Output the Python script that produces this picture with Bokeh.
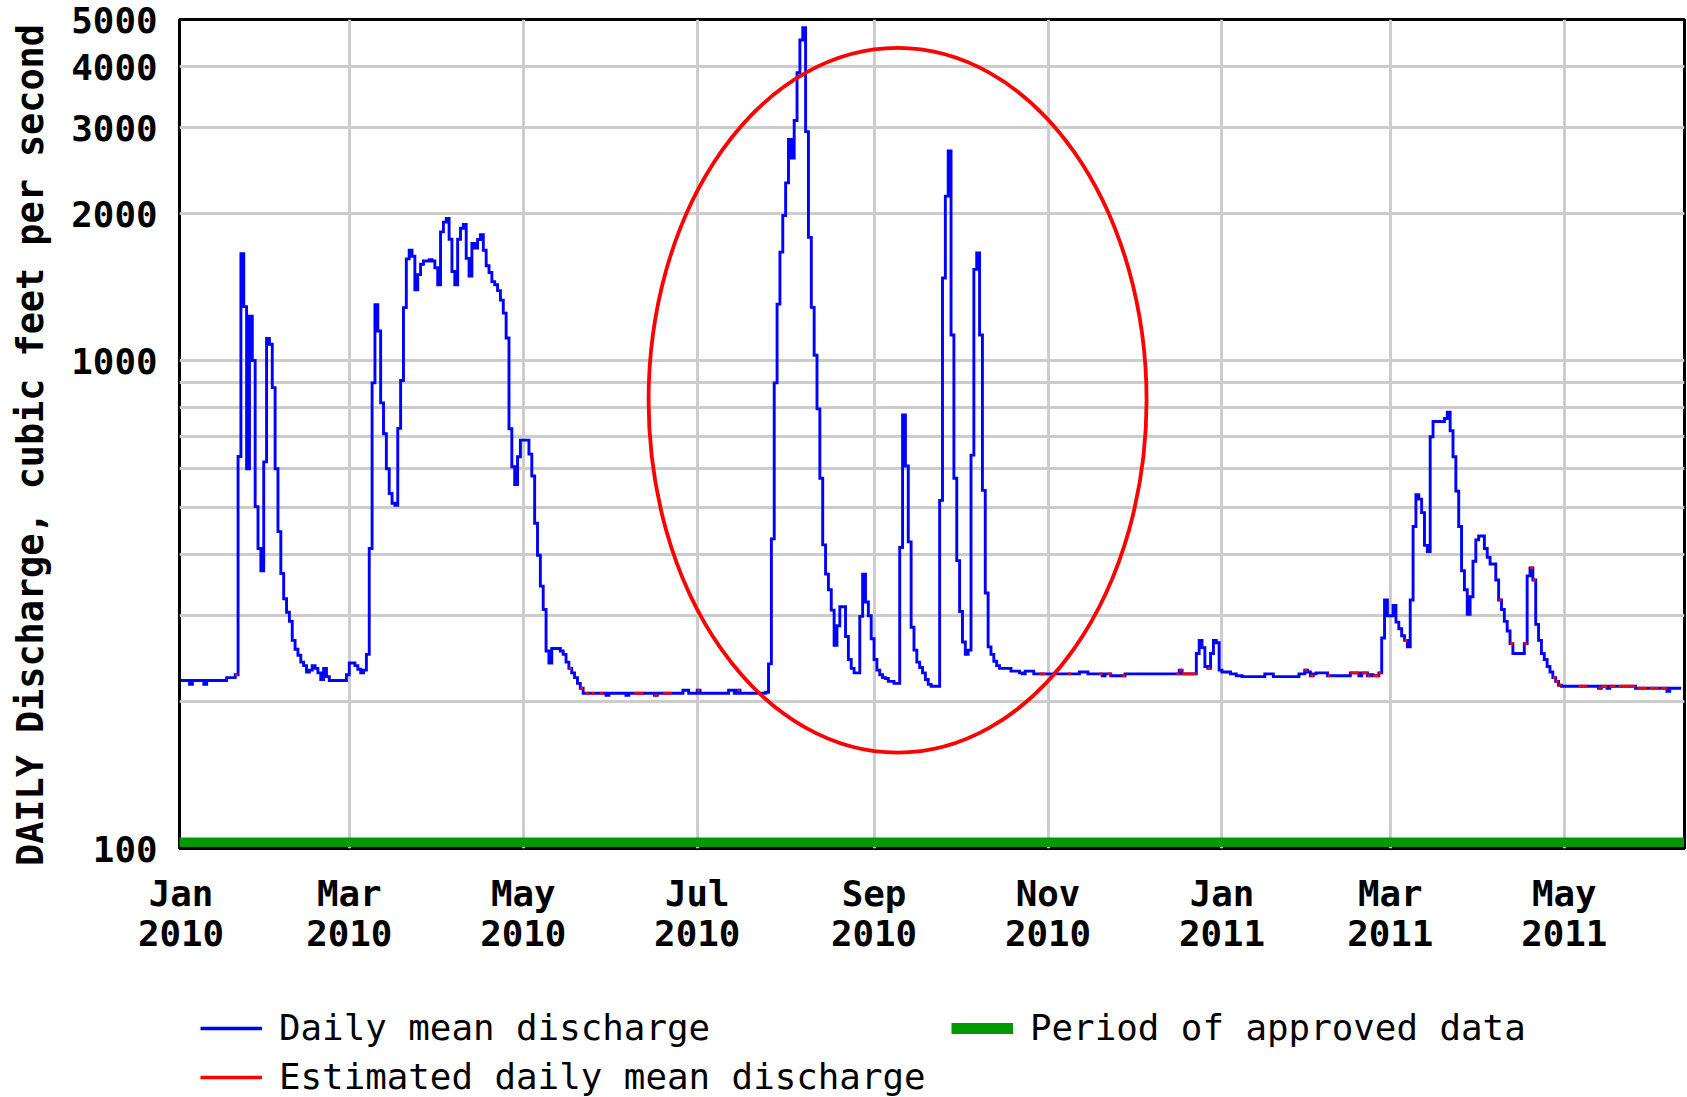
import numpy as np
import pandas as pd
from bokeh.plotting import figure
from bokeh.layouts import column
from bokeh.models import (Range1d, FixedTicker, Legend, LegendItem,
                          ColumnDataSource, PrintfTickFormatter)
from bokeh.embed import file_html
from bokeh.resources import INLINE

# ---------------- data (daily mean discharge, cubic feet per second) -------------
first_day = "2010-01-01"

q_2010_jan = [221, 221, 221, 217, 221, 221, 221, 221, 217, 221, 221, 221, 221, 221, 221, 221,
              224, 224, 224, 227, 636, 1655, 1290, 600, 1233, 1000, 502, 412, 371, 620, 1110]
q_2010_feb = [1080, 880, 600, 446, 366, 325, 305, 292, 267, 256, 249, 241, 237, 230, 232, 237,
              234, 229, 222, 234, 225, 221, 221, 221, 221, 221, 221, 227]
q_2010_mar = [240, 240, 237, 233, 229, 232, 250, 412, 900, 1302, 1150, 819, 708, 600, 534, 510,
              505, 726, 910, 1284, 1616, 1683, 1636, 1396, 1500, 1575, 1600, 1600, 1610, 1600, 1550]
q_2010_apr = [1430, 1835, 1922, 1955, 1773, 1522, 1430, 1773, 1867, 1900, 1620, 1490, 1737, 1700,
              1770, 1811, 1683, 1564, 1515, 1451, 1430, 1391, 1330, 1251, 1112, 725, 606, 557, 635, 687]
q_2010_may = [687, 687, 643, 580, 464, 399, 345, 309, 254, 240, 257, 257, 257, 254, 250, 241,
              234, 229, 224, 218, 213, 208, 208, 208, 208, 208, 208, 208, 208, 206, 208]
q_2010_jun = [208, 208, 208, 208, 208, 206, 208, 208, 208, 208, 208, 208, 208, 208, 208, 206,
              208, 208, 208, 208, 208, 208, 208, 208, 208, 211, 211, 208, 208, 208]
q_2010_jul = [211, 208, 208, 208, 208, 208, 208, 208, 208, 208, 208, 211, 211, 208, 211, 208,
              208, 208, 208, 208, 208, 208, 208, 208, 209, 239, 431, 900, 1305, 1668, 1983]
q_2010_aug = [2313, 2840, 2600, 3105, 3890, 4540, 4810, 2946, 1788, 1285, 1025, 796, 574, 419, 365,
              339, 308, 261, 286, 313, 313, 272, 244, 234, 229, 229, 299, 365, 320, 300, 269]
q_2010_sep = [244, 232, 227, 224, 223, 220, 220, 218, 218, 414, 774, 608, 425, 284, 255, 241,
              235, 229, 222, 217, 215, 215, 215, 517, 1476, 2173, 2690, 1128, 574, 389]
q_2010_oct = [306, 265, 250, 255, 640, 1538, 1661, 1128, 542, 334, 259, 250, 242, 237, 234, 234,
              234, 234, 231, 231, 231, 229, 228, 231, 231, 231, 228, 228, 228, 228, 228]
q_2010_nov = [228, 228, 228, 228, 228, 228, 228, 228, 228, 228, 228, 230, 230, 230, 228, 228,
              228, 228, 228, 226, 228, 228, 226, 226, 226, 226, 226, 228, 228, 228]
q_2010_dec = [228, 228, 228, 228, 228, 228, 228, 228, 228, 228, 228, 228, 228, 228, 228, 228,
              232, 228, 228, 228, 228, 228, 251, 267, 258, 236, 234, 251, 267, 264, 232]
q_2011_jan = [230, 230, 230, 228, 228, 226, 226, 225, 225, 225, 225, 225, 225, 225, 225, 228,
              228, 228, 225, 225, 225, 225, 225, 225, 225, 225, 225, 228, 228, 232, 230]
q_2011_feb = [226, 228, 229, 229, 229, 229, 226, 226, 226, 226, 226, 226, 226, 226, 229, 229,
              229, 226, 229, 229, 226, 227, 226, 226, 229, 270, 323, 300]
q_2011_mar = [300, 315, 291, 282, 273, 267, 259, 323, 457, 531, 520, 488, 418, 406, 698, 750,
              750, 750, 750, 761, 784, 718, 635, 540, 457, 371, 339, 302, 328, 388, 429]
q_2011_apr = [437, 437, 412, 395, 383, 383, 355, 323, 309, 292, 279, 263, 251, 251, 251, 251,
              263, 362, 376, 355, 288, 267, 251, 244, 236, 230, 224, 220, 216, 215]
q_2011_may = [215, 215, 215, 215, 215, 215, 215, 215, 215, 215, 215, 215, 213, 215, 215, 213,
              215, 215, 215, 215, 215, 215, 215, 215, 215, 213, 213, 213, 213, 213, 213]
q_2011_jun = [213, 213, 213, 213, 213, 210, 213, 213, 213, 213, 213]

# days whose mean discharge is estimated (drawn in red)
estimated_dates = [
    "2010-01-20", "2010-05-17", "2010-05-21", "2010-05-23", "2010-05-25", "2010-05-28",
    "2010-06-09", "2010-06-10", "2010-06-11", "2010-06-16", "2010-06-19", "2010-06-20",
    "2010-06-21", "2010-07-01", "2010-07-15", "2010-10-29", "2010-10-30", "2010-11-08",
    "2010-11-19", "2010-11-22", "2010-11-27", "2010-12-16", "2010-12-17", "2010-12-18",
    "2010-12-19", "2010-12-20", "2010-12-21", "2010-12-22", "2010-12-27", "2011-01-30",
    "2011-02-01", "2011-02-07", "2011-02-15", "2011-02-16", "2011-02-17", "2011-02-19",
    "2011-02-20", "2011-02-21", "2011-02-23", "2011-02-24", "2011-02-25", "2011-03-06",
    "2011-04-08", "2011-04-12", "2011-04-17", "2011-04-19", "2011-04-20", "2011-04-27",
    "2011-04-28", "2011-04-29", "2011-05-06", "2011-05-07", "2011-05-08", "2011-05-13",
    "2011-05-14", "2011-05-15", "2011-05-17", "2011-05-18", "2011-05-20", "2011-05-21",
    "2011-05-22", "2011-05-23", "2011-05-24", "2011-05-25", "2011-05-27", "2011-05-28",
    "2011-05-29", "2011-05-31", "2011-06-01", "2011-06-02", "2011-06-04", "2011-06-05",
]

approved_period = ["2009-12-30", "2011-06-12"]

x_tick_dates = ["2010-01-01", "2010-03-01", "2010-05-01", "2010-07-01", "2010-09-01",
                "2010-11-01", "2011-01-01", "2011-03-01", "2011-05-01"]
x_tick_labels = ["Jan\n2010", "Mar\n2010", "May\n2010", "Jul\n2010", "Sep\n2010",
                 "Nov\n2010", "Jan\n2011", "Mar\n2011", "May\n2011"]
y_ticks = [100, 1000, 2000, 3000, 4000, 5000]
y_minor_ticks = [200, 300, 400, 500, 600, 700, 800, 900]

circle_center_date = "2010-09-09 06:00"
circle_center_flow = 829

# ---------------- build -------------------------------------------------------------
flow = (q_2010_jan + q_2010_feb + q_2010_mar + q_2010_apr + q_2010_may + q_2010_jun +
        q_2010_jul + q_2010_aug + q_2010_sep + q_2010_oct + q_2010_nov + q_2010_dec +
        q_2011_jan + q_2011_feb + q_2011_mar + q_2011_apr + q_2011_may + q_2011_jun)
dates = pd.date_range(first_day, periods=len(flow), freq="D")


def ms(t):
    return pd.Timestamp(t).value / 1e6


DAY = 86400000.0
date_ms = np.array([ms(d) for d in dates])
flow = np.array(flow, dtype=float)

src = ColumnDataSource(dict(x=date_ms, y=flow))

est_idx = [dates.get_loc(pd.Timestamp(s)) for s in estimated_dates]
est_xs = [[date_ms[i], date_ms[i] + DAY] for i in est_idx]
est_ys = [[flow[i], flow[i]] for i in est_idx]

x_start = ms(first_day) - 0.53 * DAY
x_end = ms(first_day) + 527.17 * DAY

FONT = "DejaVu Sans Mono"
FS = "35.8px"
BLUE, RED, GREEN, GRID = "#0000FF", "#FF0000", "#009900", "#CCCCCC"

W = 1687
H_PLOT = 965
H_LEG = 1097 - H_PLOT

p = figure(width=W, height=H_PLOT, x_axis_type="datetime", y_axis_type="log",
           x_range=Range1d(x_start, x_end), y_range=Range1d(100, 5000),
           toolbar_location=None, output_backend="svg",
           min_border_left=179, min_border_right=3, min_border_top=19,
           min_border_bottom=H_PLOT - 848)
p.background_fill_color = "white"
p.border_fill_color = "white"
p.outline_line_color = "black"
p.outline_line_width = 3
p.outline_line_alpha = 1.0

tick_ms = [ms(t) for t in x_tick_dates]
p.xaxis.ticker = FixedTicker(ticks=tick_ms)
p.xaxis.major_label_overrides = {t: lab for t, lab in zip(tick_ms, x_tick_labels)}
p.xgrid.ticker = FixedTicker(ticks=tick_ms[1:])
p.yaxis.ticker = FixedTicker(ticks=y_ticks, minor_ticks=y_minor_ticks)
p.yaxis.formatter = PrintfTickFormatter(format="%d")

for ax in (p.xaxis[0], p.yaxis[0]):
    ax.axis_line_color = None
    ax.major_tick_line_color = None
    ax.minor_tick_line_color = None
    ax.major_tick_out = 0
    ax.minor_tick_out = 0
    ax.major_tick_in = 0
    ax.minor_tick_in = 0
    ax.major_label_text_font = FONT
    ax.major_label_text_font_size = FS
    ax.major_label_text_font_style = "bold"
    ax.major_label_text_color = "black"

p.xaxis.major_label_standoff = 24
p.xaxis.major_label_text_line_height = 0.98
p.yaxis.major_label_standoff = 22
p.yaxis.major_label_text_line_height = 0.9
p.yaxis.axis_label = "DAILY Discharge, cubic feet per second "
p.yaxis.axis_label_text_font = FONT
p.yaxis.axis_label_text_font_size = "36.8px"
p.yaxis.axis_label_text_font_style = "bold"
p.yaxis.axis_label_text_color = "black"
p.yaxis.axis_label_standoff = 16

p.xgrid.grid_line_color = GRID
p.xgrid.grid_line_width = 2.9
p.ygrid.grid_line_color = GRID
p.ygrid.grid_line_width = 2.9
p.ygrid.minor_grid_line_color = GRID
p.ygrid.minor_grid_line_width = 2.9

p.step(x="x", y="y", source=src, mode="after", line_color=BLUE,
       line_width=2.9, line_join="miter")
p.multi_line(xs=est_xs, ys=est_ys, line_color=RED, line_width=2.9)
green_y = 100 * 10 ** (6.3 / 487.8)
p.line(x=[ms(approved_period[0]), ms(approved_period[1])], y=[green_y, green_y],
       line_color=GREEN, line_width=9.5, line_cap="butt")
p.ellipse(x=[ms(circle_center_date)], y=[circle_center_flow], width=498, height=705,
          width_units="screen", height_units="screen", fill_color=None,
          line_color=RED, line_width=3.8)

# ---------------- legend strip under the chart ---------------------------------------
leg = figure(width=W, height=H_LEG, x_range=Range1d(0, 1), y_range=Range1d(0, 1),
             toolbar_location=None, output_backend="svg",
             x_axis_location=None, y_axis_location=None,
             min_border_left=0, min_border_right=0, min_border_top=0, min_border_bottom=0)
leg.grid.visible = False
leg.outline_line_color = None
leg.background_fill_color = "white"
leg.border_fill_color = "white"
# key swatches only (kept outside the visible range of this strip)
swatch_x = [-3, -2]
swatch_y = [-3, -3]
r_blue = leg.line(x=swatch_x, y=swatch_y, line_color=BLUE, line_width=3.6)
r_red = leg.line(x=swatch_x, y=swatch_y, line_color=RED, line_width=3.6)
r_green = leg.line(x=swatch_x, y=swatch_y, line_color=GREEN, line_width=11, line_cap="butt")

legend = Legend(items=[
    LegendItem(label="Daily mean discharge", renderers=[r_blue]),
    LegendItem(label="Estimated daily mean discharge", renderers=[r_red]),
    LegendItem(label="Period of approved data", renderers=[r_green]),
], orientation="vertical", ncols=2, location=(21, 0))
legend.glyph_width = 62
legend.glyph_height = 20
legend.label_standoff = 17
legend.label_width = 664
legend.spacing = 8
legend.padding = 0
legend.margin = 0
legend.border_line_color = None
legend.background_fill_alpha = 0
legend.label_text_font = FONT
legend.label_text_font_size = FS
legend.label_text_color = "black"
leg.add_layout(legend, "center")

layout = column(p, leg, spacing=0)
open("out.html", "w").write(file_html(layout, INLINE))
